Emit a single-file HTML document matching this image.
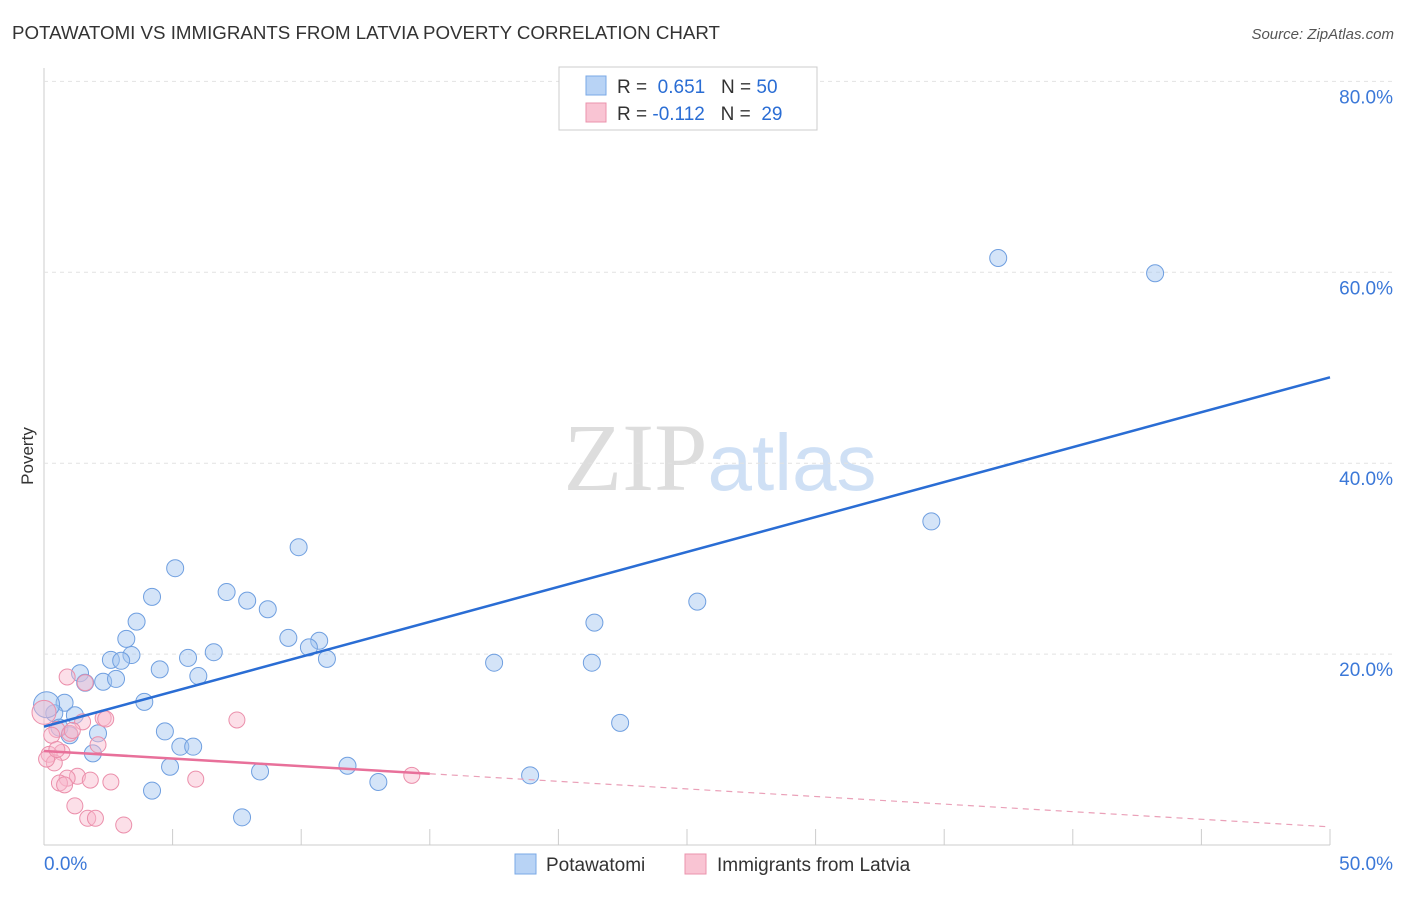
<!DOCTYPE html>
<html><head><meta charset="utf-8"><style>
body{margin:0;background:#fff;font-family:"Liberation Sans",sans-serif}
</style></head><body>
<svg id="c" width="1406" height="892" xmlns="http://www.w3.org/2000/svg" font-family="Liberation Sans, sans-serif">
<text x="12" y="39" font-size="18" fill="#333" textLength="708" lengthAdjust="spacingAndGlyphs">POTAWATOMI VS IMMIGRANTS FROM LATVIA POVERTY CORRELATION CHART</text>
<text x="1394" y="39" font-size="15" fill="#555" text-anchor="end" font-style="italic">Source: ZipAtlas.com</text>
<text transform="translate(33,456) rotate(-90)" font-size="17" fill="#333" text-anchor="middle">Poverty</text>
<text x="720" y="490" font-size="96" text-anchor="middle"><tspan fill="#ddd" font-family="Liberation Serif, serif">ZIP</tspan><tspan fill="#cfe0f5" font-size="80">atlas</tspan></text>
<g id="grid"></g><g id="marks"></g>
<g>
<rect x="559" y="67" width="258" height="63" fill="#fff" stroke="#ccc"/>
<rect x="586" y="76" width="20" height="19" fill="#b8d3f5" stroke="#7aa8e6"/>
<rect x="586" y="103" width="20" height="19" fill="#f9c4d3" stroke="#eb93ad"/>
<text x="617" y="93" font-size="19" fill="#333">R = <tspan fill="#2a6dd4">&#160;0.651</tspan>&#160;&#160;&#160;N = <tspan fill="#2a6dd4">50</tspan></text>
<text x="617" y="120" font-size="19" fill="#333">R = <tspan fill="#2a6dd4">-0.112</tspan>&#160;&#160;&#160;N = <tspan fill="#2a6dd4">&#160;29</tspan></text>
</g>
<g>
<rect x="515" y="854" width="21" height="20" fill="#b8d3f5" stroke="#7aa8e6"/>
<text x="546" y="871" font-size="19" fill="#333">Potawatomi</text>
<rect x="685" y="854" width="21" height="20" fill="#f9c4d3" stroke="#eb93ad"/>
<text x="717" y="871" font-size="19" fill="#333">Immigrants from Latvia</text>
</g>
</svg>
<script>
const yTicks=[20,40,60,80];
const yTickLabels=["20.0%","40.0%","60.0%","80.0%"];
const blueX=[37.1,43.2,34.5,25.4,21.4,21.3,22.4,17.5,18.9,13.0,11.8,9.9,5.1,4.2,7.1,7.9,8.7,9.5,10.7,10.3,11.0,3.6,3.2,3.4,2.6,3.0,4.5,5.6,6.6,6.0,1.4,1.6,2.3,2.8,3.9,0.8,1.2,0.4,2.1,4.7,5.3,5.8,1.9,4.9,8.4,4.2,7.7,0.1,0.6,1.0];
const blueY=[61.5,59.9,33.9,25.5,23.3,19.1,12.8,19.1,7.3,6.6,8.3,31.2,29.0,26.0,26.5,25.6,24.7,21.7,21.4,20.7,19.5,23.4,21.6,19.9,19.4,19.3,18.4,19.6,20.2,17.7,18.0,17.0,17.1,17.4,15.0,14.9,13.6,13.8,11.7,11.9,10.3,10.3,9.6,8.2,7.7,5.7,2.9,14.7,12.3,11.5];
const pinkX=[0.9,1.6,7.5,2.3,1.5,0.5,1.0,2.1,0.7,0.2,0.4,14.3,1.3,0.9,2.6,5.9,0.6,0.8,1.2,1.7,2.0,3.1,0.0,2.4,0.3,1.1,0.1,0.5,1.8];
const pinkY=[17.6,17.0,13.1,13.3,12.9,12.1,11.7,10.5,9.7,9.5,8.6,7.3,7.2,7.0,6.6,6.9,6.5,6.3,4.1,2.8,2.8,2.1,13.9,13.2,11.5,12.0,9.0,10.0,6.8];
const blueTrend=[12.4,49.0];
const pinkTrend=[9.85,1.9];
const xs=v=>44+v*25.72, ys=v=>845-v*9.545;
const NS="http://www.w3.org/2000/svg";
function mk(p,t,a){const e=document.createElementNS(NS,t);for(const k in a)e.setAttribute(k,a[k]);p.appendChild(e);return e;}
const g=document.getElementById('grid'), m=document.getElementById('marks');
mk(g,'line',{x1:44,y1:68,x2:44,y2:845,stroke:'#ccc'});
mk(g,'line',{x1:44,y1:845,x2:1330,y2:845,stroke:'#ccc'});
yTicks.forEach((v,i)=>{
 const l=mk(g,'line',{x1:44,y1:ys(v),x2:1392,y2:ys(v),stroke:'#e2e2e2','stroke-dasharray':'4,4'});
 
 
 const t=mk(g,'text',{x:1393,y:ys(v)+22,'font-size':19,fill:'#3b78d8','text-anchor':'end'});
 t.textContent=yTickLabels[i];
 
 
});
for(let i=1;i<=10;i++){const l=mk(g,'line',{x1:xs(i*5),y1:829,x2:xs(i*5),y2:845,stroke:'#ccc'});
 
 }
const x0=mk(g,'text',{x:44,y:870,'font-size':19,fill:'#3b78d8'});x0.textContent='0.0%';


const x1=mk(g,'text',{x:1393,y:870,'font-size':19,fill:'#3b78d8','text-anchor':'end'});x1.textContent='50.0%';


blueX.forEach((v,i)=>{const c=mk(m,'circle',{cx:xs(v),cy:ys(blueY[i]),r:i==47?13:8.5,fill:'rgba(160,195,240,0.45)',stroke:'#6f9fe0','stroke-width':1});
 
 });
pinkX.forEach((v,i)=>{const c=mk(m,'circle',{cx:xs(v),cy:ys(pinkY[i]),r:i==22?12:8,fill:'rgba(248,185,205,0.45)',stroke:'#eb8fab','stroke-width':1});
 
 });
const bt=mk(m,'line',{x1:xs(0),y1:ys(blueTrend[0]),x2:xs(50),y2:ys(blueTrend[1]),stroke:'#2a6dd4','stroke-width':2.5});


const pf=v=>pinkTrend[0]+(pinkTrend[1]-pinkTrend[0])*v/50;
const pt=mk(m,'line',{x1:xs(0),y1:ys(pf(0)),x2:xs(15),y2:ys(pf(15)),stroke:'#e8709a','stroke-width':2.5});


const pd=mk(m,'line',{x1:xs(15),y1:ys(pf(15)),x2:xs(50),y2:ys(pf(50)),stroke:'#eaa0b8','stroke-width':1.2,'stroke-dasharray':'6,5'});


</script>
</body></html>
